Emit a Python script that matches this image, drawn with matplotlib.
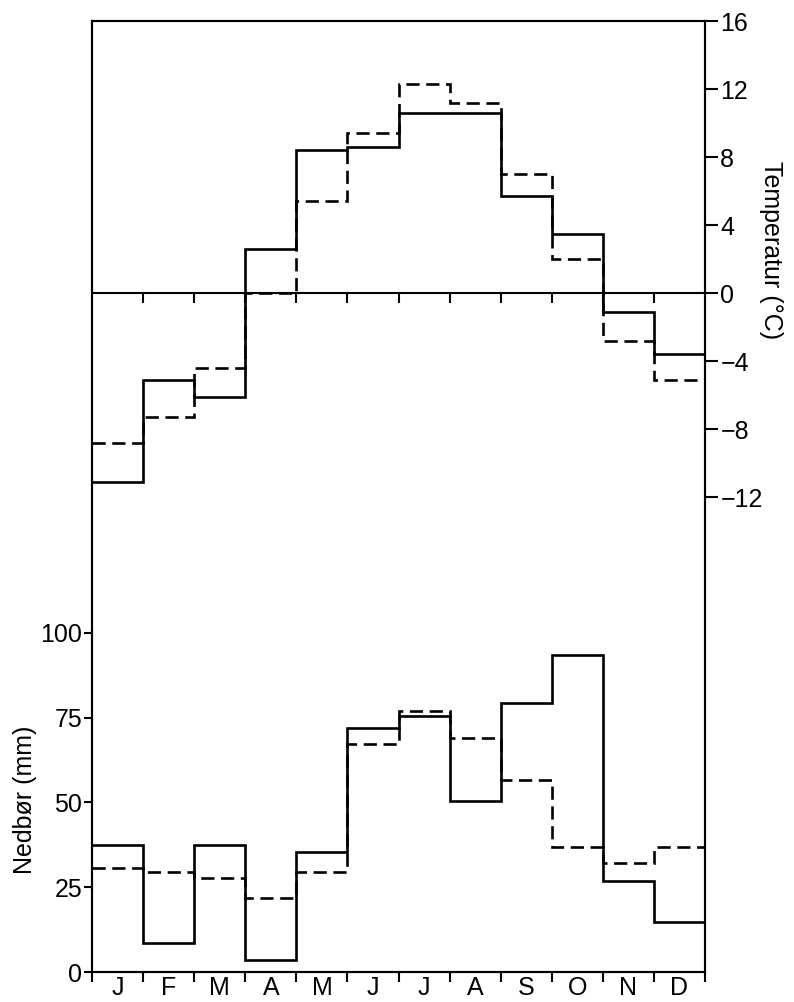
import numpy as np
import matplotlib
matplotlib.use("Agg")
import matplotlib.pyplot as plt

plt.rcParams["font.family"] = ["Liberation Sans", "DejaVu Sans"]

MONTHS = ["J", "F", "M", "A", "M", "J", "J", "A", "S", "O", "N", "D"]
# temperature (°C), two series
TEMP_SOLID = [-11.1, -5.1, -6.1, 2.6, 8.4, 8.6, 10.6, 10.6, 5.7, 3.5, -1.1, -3.6]
TEMP_DASH = [-8.8, -7.3, -4.4, 0.0, 5.4, 9.4, 12.3, 11.2, 7.0, 2.0, -2.8, -5.1]
# precipitation (mm), two series
PREC_SOLID = [37.5, 8.6, 37.5, 3.5, 35.4, 72.0, 75.5, 50.4, 79.4, 93.5, 26.8, 14.7]
PREC_DASH = [30.7, 29.5, 27.7, 21.8, 29.5, 67.3, 77.0, 69.0, 56.6, 36.9, 32.2, 36.9]
PREC_TICKS = [0, 25, 50, 75, 100]
TEMP_TICKS = [16, 12, 8, 4, 0, -4, -8, -12]

W, H = 794, 1002
FS = 18
LW = 1.9

fig = plt.figure(figsize=(W / 100, H / 100), dpi=100)
ax = fig.add_axes([92 / W, 1 - 972 / H, (705 - 92) / W, (972 - 21) / H])
ax2 = ax.twinx()

edges = np.arange(len(MONTHS) + 1)

# precipitation on the left axis
ax.stairs(PREC_SOLID, edges, baseline=None, color="black", lw=LW)
ax.stairs(PREC_DASH, edges, baseline=None, color="black", lw=LW, ls=(0, (5, 2.5)))
ax.set_xlim(0, 12)
ax.set_ylim(0, 280.5)
ax.set_yticks(PREC_TICKS)
ax.tick_params(axis="y", direction="out", length=6, width=1.5, pad=1, labelsize=FS)
ax.set_xticks(edges)
ax.set_xticklabels([])
ax.set_xticks(edges[:-1] + 0.5, minor=True)
ax.set_xticklabels(MONTHS, minor=True)
ax.tick_params(axis="x", which="major", direction="out", length=7, width=1.5)
ax.tick_params(axis="x", which="minor", length=0, pad=3, labelsize=FS)

# temperature on the right axis
ax2.stairs(TEMP_SOLID, edges, baseline=None, color="black", lw=LW)
ax2.stairs(TEMP_DASH, edges, baseline=None, color="black", lw=LW, ls=(0, (5, 2.5)))
ax2.axhline(0, color="black", lw=1.5)
ax2.vlines(edges[1:-1], -0.6, 0, color="black", lw=1.5)
ax2.set_ylim(-39.94, 16)
ax2.set_yticks(TEMP_TICKS)
ax2.tick_params(axis="y", direction="out", length=9, width=1.5, pad=2, labelsize=FS)

for a in (ax, ax2):
    for s in a.spines.values():
        s.set_linewidth(1.5)

fig.text(25 / W, 1 - 800 / H, "Nedbør (mm)", rotation=90, ha="center", va="center", fontsize=FS)
fig.text(771 / W, 1 - 250 / H, "Temperatur (°C)", rotation=270, ha="center", va="center", fontsize=FS)

fig.savefig("out.png", dpi=100)
